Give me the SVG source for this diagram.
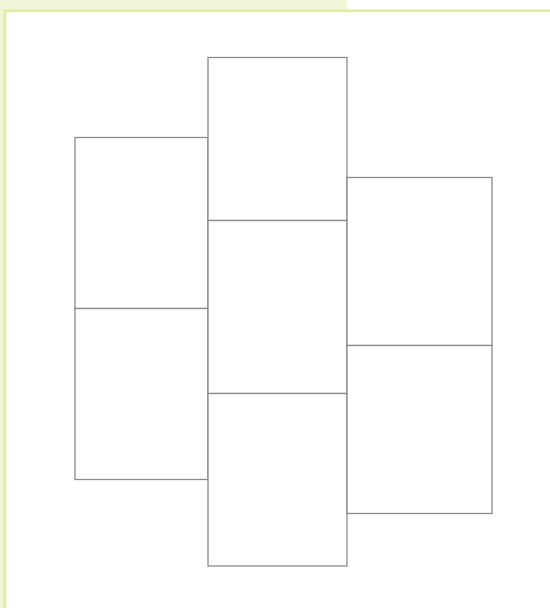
<svg xmlns="http://www.w3.org/2000/svg" width="550" height="608" viewBox="0 0 550 608">
<style>
.cell{fill:#ffffff;stroke:#8a8a8a;stroke-width:1.3}
</style>
<rect x="0" y="0" width="550" height="608" fill="#ffffff"/>
<rect x="0" y="0" width="347" height="10" fill="#f1f6d9"/>
<rect x="0" y="0" width="4" height="608" fill="#f1f6d9"/>
<rect x="4" y="9.5" width="546" height="2.5" fill="#e0ec9f"/>
<rect x="3.5" y="9.5" width="2.7" height="598.5" fill="#e0ec9f"/>
<g id="cells">
<g id="left-top"><rect class="cell" x="75" y="137.5" width="133" height="171"/></g>
<g id="left-bottom"><rect class="cell" x="75" y="308.5" width="133" height="171"/></g>
<g id="mid-top"><rect class="cell" x="208" y="57.5" width="139" height="163"/></g>
<g id="mid-middle"><rect class="cell" x="208" y="220.5" width="139" height="173"/></g>
<g id="mid-bottom"><rect class="cell" x="208" y="393.5" width="139" height="172.5"/></g>
<g id="right-top"><rect class="cell" x="347" y="177.5" width="145" height="168"/></g>
<g id="right-bottom"><rect class="cell" x="347" y="345.5" width="145" height="168"/></g>
</g>
<g id="connectors"/>
</svg>
